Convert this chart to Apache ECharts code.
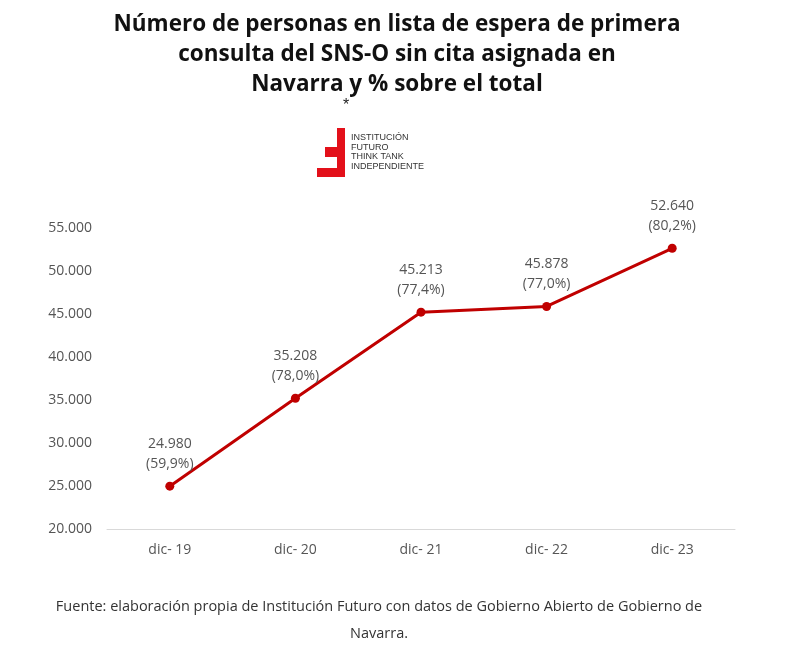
<!DOCTYPE html>
<html><head><meta charset="utf-8">
<script src="https://cdn.jsdelivr.net/npm/echarts@6/dist/echarts.min.js"></script>
<style>html,body{margin:0;padding:0;background:#fff}#c{width:794px;height:662px}</style>
</head><body><div id="c"></div>
<script>
const categories = ['dic- 19','dic- 20','dic- 21','dic- 22','dic- 23'];
const values = [24980, 35208, 45213, 45878, 52640];
const pctLabels = ['59,9%','78,0%','77,4%','77,0%','80,2%'];
const fmt = v => String(v).replace(/\B(?=(\d{3})+(?!\d))/g, '.');
const chart = echarts.init(document.getElementById('c'));
chart.setOption({
  animation:false,
  title:{text:'Número de personas en lista de espera de primera\nconsulta del SNS-O sin cita asignada en\nNavarra y % sobre el total',
    left:'center',top:5,textStyle:{fontFamily:'Open Sans',fontWeight:'bold',fontSize:22.5,lineHeight:30,color:'#111'}},
  graphic:[
    {type:'text',left:343,top:98,style:{text:'*',fontSize:16,fill:'#222'}},
    {type:'rect',shape:{x:337,y:128,width:8,height:49},style:{fill:'#e3101a'}},
    {type:'rect',shape:{x:317,y:168,width:28,height:9},style:{fill:'#e3101a'}},
    {type:'rect',shape:{x:325,y:147,width:14,height:10},style:{fill:'#e3101a'}},
    {type:'text',left:351,top:133,style:{text:'INSTITUCIÓN\nFUTURO\nTHINK TANK\nINDEPENDIENTE',fontSize:9,lineHeight:9.5,fill:'#333',fontFamily:'Liberation Sans Narrow, Liberation Sans'}},
    {type:'text',x:379,y:593,style:{text:'Fuente: elaboración propia de Institución Futuro con datos de Gobierno Abierto de Gobierno de\nNavarra.',align:'center',textAlign:'center',fontSize:14.5,lineHeight:27,fill:'#333',fontFamily:'Open Sans'}}
  ],
  grid:{left:107,right:59,top:228,bottom:133},
  xAxis:{type:'category',data:categories,axisTick:{show:false},
    axisLine:{lineStyle:{color:'#d9d9d9'}},
    axisLabel:{color:'#555',fontSize:14,margin:14,fontFamily:'Open Sans'}},
  yAxis:{type:'value',min:20000,max:55000,interval:5000,
    axisLabel:{formatter:fmt,color:'#555',fontSize:14,margin:15,fontFamily:'Open Sans'},
    splitLine:{show:false}},
  series:[{type:'line',data:values,symbol:'circle',symbolSize:9,
    itemStyle:{color:'#c00000'},lineStyle:{color:'#c00000',width:3},
    label:{show:true,position:'top',distance:8,color:'#555',fontSize:14,lineHeight:20,fontFamily:'Open Sans',
      formatter:p=>fmt(p.value)+'\n('+pctLabels[p.dataIndex]+')'}}]
});
</script></body></html>
